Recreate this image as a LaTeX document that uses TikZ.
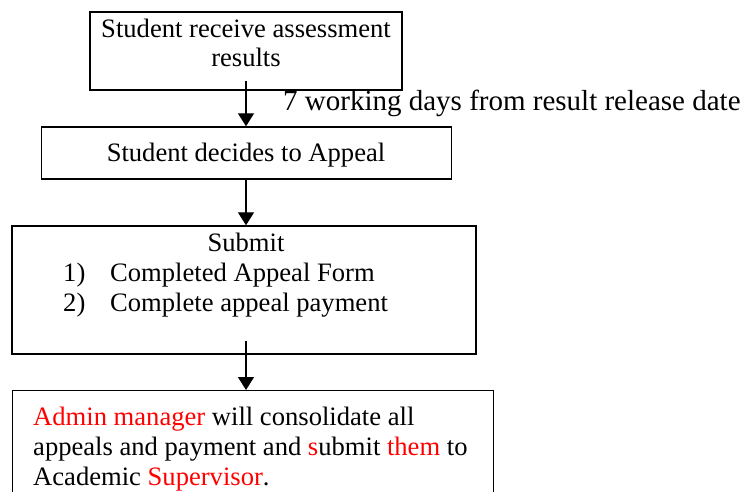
\documentclass[tikz,border=0pt]{standalone}
\usepackage{fontspec}
\setmainfont{Liberation Serif}
\usetikzlibrary{arrows.meta}
\definecolor{appred}{RGB}{255,0,0}
\begin{document}
\begin{tikzpicture}[x=1pt,y=-1pt,
  box/.style={draw=black,line width=1.4pt,rectangle,inner sep=0pt},
  txt/.style={inner sep=0pt,font=\fontsize{26.6}{30}\selectfont},
  lbl/.style={inner sep=0pt,font=\fontsize{29}{32}\selectfont},
  conn/.style={line width=1.4pt,-{Triangle[width=16pt,length=13pt]}}]
\useasboundingbox (0,0) rectangle (748,492);
\clip (0,0) rectangle (748,492);
% boxes
\node[box,minimum width=312pt,minimum height=78pt] (b1) at (246,51) {};
\node[box,minimum width=410pt,minimum height=52pt] (b2) at (246.5,153) {};
\node[box,minimum width=464pt,minimum height=128pt] (b3) at (244,290) {};
\node[box,minimum width=481pt,minimum height=130pt,anchor=north west] (b4) at (12,390) {};
% texts
\node[txt,anchor=base] (t1a) at (246,38) {Student receive assessment};
\node[txt,anchor=base] (t1b) at (246,67) {results};
\node[lbl,anchor=base west] (lab) at (283,111) {7 working days from result release date};
\node[txt,anchor=base] (t2) at (246,162) {Student decides to Appeal};
\node[txt,anchor=base] (t3a) at (246,252) {Submit};
\node[txt,anchor=base west] (n1) at (63,282) {1)};
\node[txt,anchor=base west] (t3b) at (110,282) {Completed Appeal Form};
\node[txt,anchor=base west] (n2) at (63,311) {2)};
\node[txt,anchor=base west] (t3c) at (110,311) {Complete appeal payment};
\node[txt,anchor=base west] (t4a) at (33,425) {\textcolor{appred}{Admin manager} will consolidate all};
\node[txt,anchor=base west] (t4b) at (33,455) {appeals and payment and \textcolor{appred}{s}ubmit \textcolor{appred}{them} to};
\node[txt,anchor=base west] (t4c) at (33,485) {Academic \textcolor{appred}{Supervisor}.};
% connectors
\coordinate (s1) at (246,81);
\coordinate (s3) at (246,341);
\draw[conn] (s1) -- (b2.north -| s1);
\draw[conn] (b2.south -| s1) -- (b3.north -| s1);
\draw[conn] (s3) -- (b4.north -| s3);
\end{tikzpicture}
\end{document}
